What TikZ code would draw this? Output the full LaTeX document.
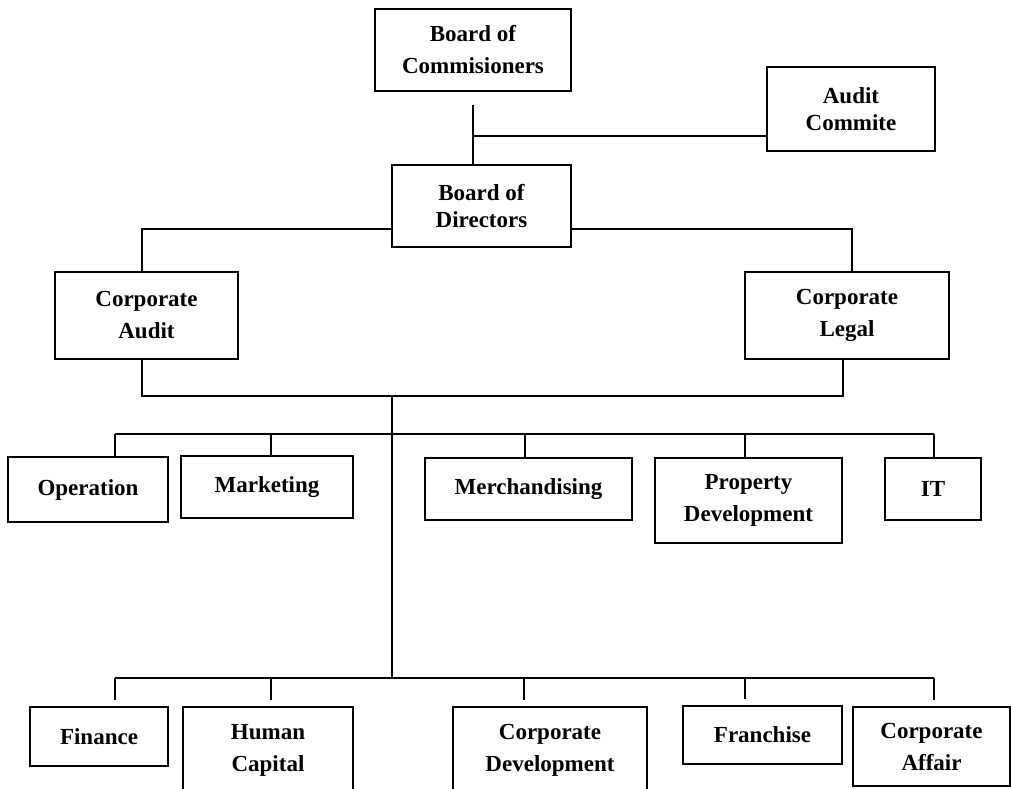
\documentclass[tikz,border=0pt]{standalone}
\usepackage{fontspec}
\setmainfont{Liberation Serif}
\begin{document}
\begin{tikzpicture}[x=1pt,y=-1pt,
  box/.style={draw=black,line width=1.8pt,rectangle,inner sep=0pt,align=center,
    font=\fontsize{23}{32}\selectfont\bfseries},
  tight/.style={font=\fontsize{23}{27}\selectfont\bfseries},
  conn/.style={draw=black,line width=1.6pt}]
\useasboundingbox (0,0) rectangle (1011,789);
\clip (0,0) rectangle (1011,789);
% boxes
\node[box,minimum width=196pt,minimum height=82pt] (boc) at (473,50) {Board of\\Commisioners};
\node[box,tight,minimum width=168pt,minimum height=84pt] (audit) at (851,109) {Audit\\Commite};
\node[box,tight,minimum width=179pt,minimum height=82pt] (bod) at (481.5,206) {Board of\\Directors};
\node[box,minimum width=183pt,minimum height=87pt] (ca) at (146.5,315.5) {Corporate\\Audit};
\node[box,minimum width=204pt,minimum height=87pt] (cl) at (847,315.5) {Corporate\\Legal};
\node[box,minimum width=160pt,minimum height=65pt] (op) at (88,489.5) {Operation};
\node[box,minimum width=172pt,minimum height=62pt] (mk) at (267,487) {Marketing};
\node[box,minimum width=207pt,minimum height=62pt] (me) at (528.5,489) {Merchandising};
\node[box,minimum width=187pt,minimum height=85pt] (pd) at (748.5,500.5) {Property\\Development};
\node[box,minimum width=96pt,minimum height=62pt] (it) at (933,489) {IT};
\node[box,minimum width=138pt,minimum height=59pt] (fi) at (99,736.5) {Finance};
\node[box,minimum width=170pt,minimum height=87pt] (hc) at (268,750.5) {Human\\Capital};
\node[box,minimum width=194pt,minimum height=87pt] (cd) at (550,750.5) {Corporate\\Development};
\node[box,minimum width=159pt,minimum height=58pt] (fr) at (762.5,735) {Franchise};
\node[box,minimum width=157pt,minimum height=79pt] (af) at (931.5,746.5) {Corporate\\Affair};
% top connectors
\coordinate (t1) at (473,105);
\coordinate (j1) at (473,136);
\draw[conn] (t1) -- (t1 |- bod.north);
\draw[conn] (j1) -- (j1 -| audit.west);
\coordinate (l1) at (142,229);
\coordinate (r1) at (852,229);
\draw[conn] (l1 -| bod.west) -- (l1) -- (l1 |- ca.north);
\draw[conn] (r1 -| bod.east) -- (r1) -- (r1 |- cl.north);
\coordinate (l2) at (142,396);
\coordinate (r2) at (843,396);
\draw[conn] (l2 |- ca.south) -- (l2) -- (r2) -- (r2 |- cl.south);
\coordinate (tr) at (392,396);
\coordinate (tb) at (392,678);
\draw[conn] (tr) -- (tb);
% first bus
\coordinate (a1) at (115,434);
\coordinate (a2) at (271,434);
\coordinate (a3) at (525,434);
\coordinate (a4) at (745,434);
\coordinate (a5) at (934,434);
\draw[conn] (a1) -- (a5);
\draw[conn] (a1) -- (a1 |- op.north);
\draw[conn] (a2) -- (a2 |- mk.north);
\draw[conn] (a3) -- (a3 |- me.north);
\draw[conn] (a4) -- (a4 |- pd.north);
\draw[conn] (a5) -- (a5 |- it.north);
% second bus
\coordinate (b1) at (115,678);
\coordinate (b2) at (271,678);
\coordinate (b3) at (524,678);
\coordinate (b4) at (745,678);
\coordinate (b5) at (934,678);
\coordinate (d1) at (115,700);
\coordinate (d2) at (271,700);
\coordinate (d3) at (524,700);
\coordinate (d4) at (745,699);
\coordinate (d5) at (934,700);
\draw[conn] (b1) -- (b5);
\draw[conn] (b1) -- (d1);
\draw[conn] (b2) -- (d2);
\draw[conn] (b3) -- (d3);
\draw[conn] (b4) -- (d4);
\draw[conn] (b5) -- (d5);
\end{tikzpicture}
\end{document}
